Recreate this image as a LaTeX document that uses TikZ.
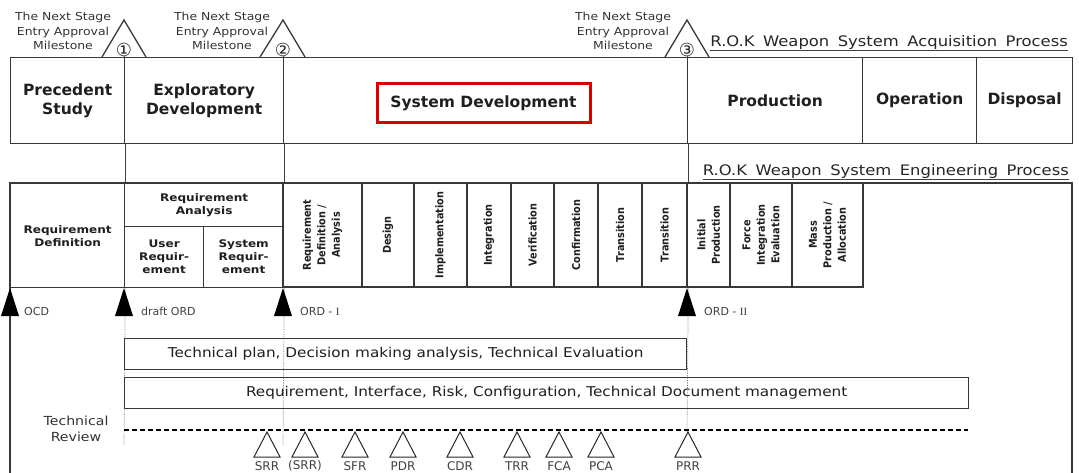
\documentclass[tikz,border=0pt]{standalone}
\usepackage{fontspec}
\setmainfont{DejaVu Sans}
\newfontfamily\romnum{Liberation Serif}
\newfontfamily\widefont{DejaVu Sans}[FakeStretch=1.13]
\newfontfamily\cellfont{DejaVu Sans}[FakeStretch=1.15]
\newfontfamily\condfont{DejaVu Sans}[FakeStretch=0.9]
\newcommand\wsp{\hspace{8.5pt}}
\begin{document}
\begin{tikzpicture}[x=1pt,y=-1pt,
  ln/.style={draw=black!78, line width=1.3pt},
  cellbox/.style={ln, inner sep=1pt, align=center, text=black!88},
  big/.style={font=\bfseries\fontsize{15.5}{19.5}\selectfont},
  hsmall/.style={font=\cellfont\bfseries\fontsize{10.5}{13}\selectfont},
  vsmall/.style={font=\condfont\bfseries\fontsize{10.8}{14.5}\selectfont, rotate=90},
  note/.style={font=\widefont\fontsize{11}{14.5}\selectfont, align=center, text=black!80, inner sep=0pt},
  lbl/.style={font=\fontsize{11}{13}\selectfont, text=black!75, anchor=west, inner sep=0pt},
  rev/.style={font=\fontsize{12}{14}\selectfont, text=black!75, inner sep=0pt},
  guide/.style={draw=black!55, line width=0.7pt, densely dotted},
  thinln/.style={draw=black!75, line width=0.8pt},
  circnum/.style={font=\fontsize{18}{18}\selectfont, inner sep=0pt, text=black!85},
  title/.style={font=\widefont\fontsize{14.5}{18}\selectfont, anchor=base east, inner sep=0pt, text=black!85},
  boxtext/.style={cellbox, font=\widefont\fontsize{13.5}{16}\selectfont, anchor=north west, minimum height=31pt}
]
\useasboundingbox (0,0) rectangle (1079,473);

% ---------- acquisition process (top row)
\node[cellbox, big, anchor=north west, minimum width=114pt, minimum height=86pt] (ps) at (10,57) {Precedent\\Study};
\node[cellbox, big, anchor=north west, minimum width=159pt, minimum height=86pt] (ed) at (124,57) {Exploratory\\Development};
\node[cellbox, anchor=north west, minimum width=404pt, minimum height=86pt] (sd) at (283,57) {};
\node[cellbox, big, draw=red!85!black, line width=3pt, minimum width=213pt, minimum height=39pt] (sdt) at (483.5,103.5) {System Development};
\node[cellbox, big, anchor=north west, minimum width=175pt, minimum height=86pt] (prod) at (687,57) {Production};
\node[cellbox, big, anchor=north west, minimum width=114pt, minimum height=86pt] (op) at (862,57) {Operation};
\node[cellbox, big, anchor=north west, minimum width=96pt, minimum height=86pt] (disp) at (976,57) {Disposal};

% milestones
\draw[ln] (102,57) -- (124,20) -- (146,57);
\draw[ln] (260,57) -- (283,20) -- (305,57);
\draw[ln] (665,57) -- (687,20) -- (709,57);
\node[circnum] (m1) at (124,49.5) {①};
\node[circnum] (m2) at (283,49.5) {②};
\node[circnum] (m3) at (687,49.5) {③};
\draw[thinln] (m1.south) -- (ps.north east);
\draw[thinln] (m2.south) -- (ed.north east);
\draw[thinln] (m3.south) -- (sd.north east);
\node[note] (n1) at (63,31) {The Next Stage\\Entry Approval\\Milestone};
\node[note] (n2) at (222,31) {The Next Stage\\Entry Approval\\Milestone};
\node[note] (n3) at (623,31) {The Next Stage\\Entry Approval\\Milestone};

% titles
\node[title] (t1) at (1068,47) {R.O.K\wsp Weapon\wsp System\wsp Acquisition\wsp Process};
\draw[line width=0.8pt, black!75] ([yshift=-3pt]t1.base west) -- ([yshift=-3pt]t1.base east);
\node[title] (t2) at (1069,176) {R.O.K\wsp Weapon\wsp System\wsp Engineering\wsp Process};
\draw[line width=0.8pt, black!75] ([yshift=-3pt]t2.base west) -- ([yshift=-3pt]t2.base east);

% ---------- engineering process
\draw[ln] (10,474) -- (10,183) -- (1072,183) -- (1072,474);
\node[cellbox, hsmall, anchor=north west, minimum width=114pt, minimum height=104pt] (rdef) at (10,183) {Requirement\\Definition};
\node[cellbox, hsmall, anchor=north west, minimum width=159pt, minimum height=43pt] (ra) at (124,183) {Requirement\\Analysis};
\node[cellbox, hsmall, anchor=north west, minimum width=79pt, minimum height=61pt] (ur) at (124,226) {User\\Requir-\\ement};
\node[cellbox, hsmall, anchor=north west, minimum width=80pt, minimum height=61pt] (sr) at (203,226) {System\\Requir-\\ement};

\node[cellbox, vsmall, minimum width=104pt, minimum height=79pt] (rda) at (322.5,235) {Requirement\\Definition /\\Analysis};
\node[cellbox, vsmall, minimum width=104pt, minimum height=52pt] (des) at (388,235) {Design};
\node[cellbox, vsmall, minimum width=104pt, minimum height=53pt] (imp) at (440.5,235) {Implementation};
\node[cellbox, vsmall, minimum width=104pt, minimum height=44pt] (intg) at (489,235) {Integration};
\node[cellbox, vsmall, minimum width=104pt, minimum height=43pt] (ver) at (532.5,235) {Verification};
\node[cellbox, vsmall, minimum width=104pt, minimum height=44pt] (conf) at (576,235) {Confirmation};
\node[cellbox, vsmall, minimum width=104pt, minimum height=44pt] (tr1) at (620,235) {Transition};
\node[cellbox, vsmall, minimum width=104pt, minimum height=45pt] (tr2) at (664.5,235) {Transition};
\node[cellbox, vsmall, minimum width=104pt, minimum height=43pt] (ip) at (708.5,235) {Initial\\Production};
\node[cellbox, vsmall, minimum width=104pt, minimum height=62pt] (fie) at (761,235) {Force\\Integration\\Evaluation};
\node[cellbox, vsmall, minimum width=104pt, minimum height=71pt] (mpa) at (827.5,235) {Mass\\Production /\\Allocation};

% milestone guide lines
\coordinate (g1) at (124,445);
\coordinate (g2) at (283,445);
\coordinate (g3) at (687,432);
\draw[thinln] (ps.south east) -- (rdef.north east);
\draw[thinln] (ed.south east) -- (ra.north east);
\draw[thinln] (sd.south east) -- (sd.south east |- rdef.north);
\draw[guide] (rdef.south east) -- (g1);
\draw[guide] (sr.south east) -- (g2);
\draw[guide] (sd.south east |- rdef.south) -- (g3);

% document arrows
\fill[black] (1,316) -- (10,288) -- (19,316) -- cycle;
\fill[black] (115,316) -- (124,288) -- (133,316) -- cycle;
\fill[black] (274,316) -- (283,288) -- (292,316) -- cycle;
\fill[black] (678,316) -- (687,288) -- (696,316) -- cycle;
\node[lbl] (ocd) at (24,311) {OCD};
\node[lbl] (dord) at (141,311) {draft ORD};
\node[lbl] (ord1) at (300,311) {ORD - {\romnum I}};
\node[lbl] (ord2) at (704,311) {ORD - {\romnum II}};

% management boxes
\node[boxtext, minimum width=562pt] (tp) at (124,338) {Technical plan, Decision making analysis, Technical Evaluation};
\node[boxtext, minimum width=844pt] (rm) at (124,377) {Requirement, Interface, Risk, Configuration, Technical Document management};

% technical review
\node[font=\widefont\fontsize{12.5}{16}\selectfont, align=center, text=black!80] (trv) at (76,429) {Technical\\Review};
\coordinate (d0) at (124,430);
\coordinate (d1) at (968,430);
\draw[line width=1.6pt, dash pattern=on 5pt off 3pt] (d0) -- (d1);
\foreach \x/\t/\n in {267/SRR/r1, 305/(SRR)/r2, 355/SFR/r3, 403/PDR/r4, 460/CDR/r5, 517/TRR/r6, 559/FCA/r7, 601/PCA/r8, 688/PRR/r9}{
  \draw[line width=1pt, black!85] (\x-13,457) -- (\x,432) -- (\x+13,457) -- cycle;
  \node[rev] (\n) at (\x,466) {\t};
}
\end{tikzpicture}
\end{document}
